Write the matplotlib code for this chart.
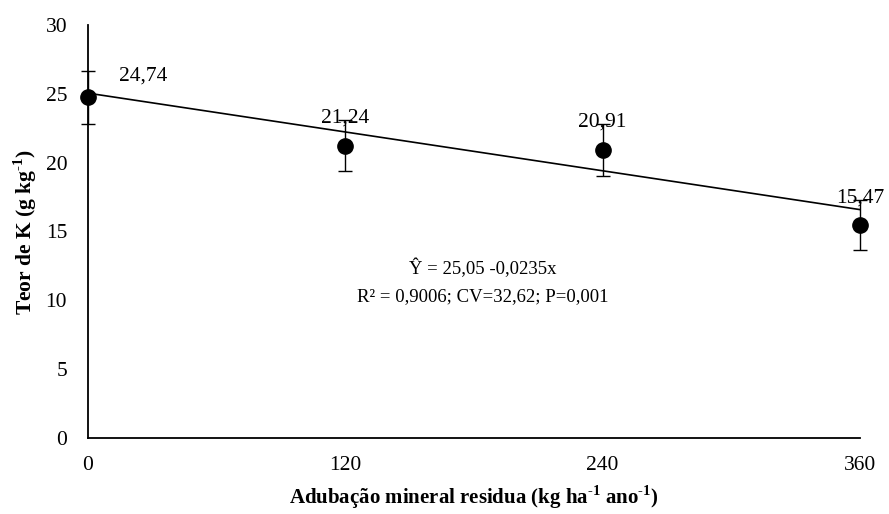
import matplotlib.pyplot as plt

plt.rcParams['font.family'] = ['Liberation Serif', 'DejaVu Serif']

# dose (kg/ha/yr) and K content (g/kg)
doses = [0, 120, 240, 360]
teor_k = [24.74, 21.24, 20.91, 15.47]
erro = [1.95, 1.86, 1.88, 1.82]
rotulos = ["24,74", "21,24", "20,91", "15,47"]
# label offsets in points (dx, dy) from the top of each error bar
offsets = [(40, -7), (0, -1.5), (0, -1.5), (0, -1.5)]

# fitted linear model
b0 = 25.05
b1 = -0.0235

# superscript "-1" written with a hyphen (U+2010) instead of a minus sign
SUP = "$^{\\mathregular{\u2010" + "1}}$"


def run():

    fig = plt.figure(figsize=(8.89, 5.14), dpi=100)
    ax = fig.add_axes([88 / 889, 1 - 438 / 514, (860 - 88) / 889, (438 - 25) / 514])

    ax.errorbar(doses, teor_k, yerr=erro, fmt='o', color='black', ms=11,
                ecolor='black', elinewidth=1, capsize=5, capthick=1,
                clip_on=False, zorder=3)

    xs = [doses[0], doses[-1]]
    ax.plot(xs, [b0 + b1 * x for x in xs], color='black', lw=1.2, clip_on=False)

    for x, y, e, lab, (dx, dy) in zip(doses, teor_k, erro, rotulos, offsets):
        ax.annotate(lab, (x, y + e), xytext=(dx, dy), textcoords='offset points',
                    ha='center', va='baseline', fontsize=15.5)

    ax.text(184, 12.3, "Ŷ = 25,05 -0,0235x", ha='center', va='center', fontsize=13.5)
    ax.text(184, 10.3, "R² = 0,9006; CV=32,62; P=0,001", ha='center', va='center', fontsize=13.5)

    ax.set_xlim(0, 360)
    ax.set_ylim(0, 30)
    ax.set_xticks(doses)
    ax.set_yticks(range(0, 31, 5))
    ax.tick_params(length=0, labelsize=15.5)
    ax.tick_params(axis='x', pad=13)
    ax.tick_params(axis='y', pad=15)

    for s in ['top', 'right']:
        ax.spines[s].set_visible(False)
    for s in ['left', 'bottom']:
        ax.spines[s].set_linewidth(1.3)

    ax.set_xlabel("Adubação mineral residua (kg ha" + SUP + " ano" + SUP + ")",
                  fontsize=15, fontweight='bold', labelpad=6)
    ax.set_ylabel("Teor de K (g kg" + SUP + ")", fontsize=15.5, fontweight='bold', labelpad=5)

    fig.savefig("out.png", dpi=100)


if __name__ == '__main__':
    run()
